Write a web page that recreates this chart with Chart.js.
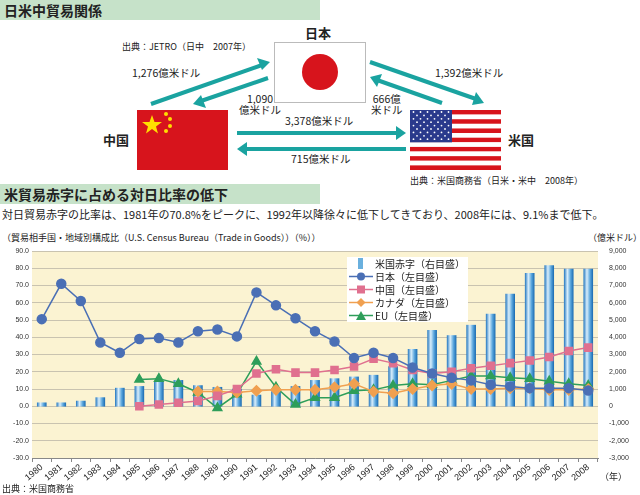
<!DOCTYPE html>
<html><head><meta charset="utf-8">
<script src="https://cdn.jsdelivr.net/npm/chart.js@4"></script>
<style>
body{margin:0;width:640px;height:495px;position:relative;overflow:hidden;background:#fff;font-family:"Noto Sans CJK JP","Noto Sans",sans-serif;color:#222}
.a{position:absolute;white-space:nowrap;line-height:1}
.hd{position:absolute;left:0;width:320px;height:20px;background:#c6e2c9;font-size:14px;font-weight:bold;line-height:20px;padding-left:4px;box-sizing:border-box}
.s{font-size:9px}.m{font-size:10.5px}.b{font-size:13px;font-weight:bold}
#wrap{position:absolute;left:0;top:243px;width:640px;height:252px}
#leg{position:absolute;left:347px;top:257px;width:121px;height:65px;background:#fff;font-size:10px}
#leg div{height:13px;line-height:13px;position:relative;padding-left:28px}
#leg svg{position:absolute;left:2px;top:1px}
</style></head><body>
<div class="hd" style="top:0">日米中貿易関係</div>
<div class="a b" style="left:305px;top:26px">日本</div>
<div class="a s" style="left:122px;top:42px">出典：JETRO（日中　2007年）</div>
<div class="a b" style="left:103px;top:133px">中国</div>
<div class="a b" style="left:508px;top:133px">米国</div>
<svg class="a" style="left:0;top:0" width="640" height="185">
 <rect x="274.5" y="42.5" width="91" height="60" fill="#fff" stroke="#bbb"/>
 <ellipse cx="320" cy="72" rx="18" ry="18" fill="#d7141c"/>
 <rect x="137" y="110" width="91" height="60" fill="#d7141c"/>
 <g fill="#ffde00"><polygon points="152,115 154.5,122 162,122 156,126.5 158,133.5 152,129 146,133.5 148,126.5 142,122 149.5,122"/>
 <circle cx="166" cy="114" r="2"/><circle cx="170" cy="119" r="2"/><circle cx="170" cy="126" r="2"/><circle cx="166" cy="131" r="2"/></g>
 <g id="us"></g>
 <g stroke="#1aa3a0" stroke-width="4" fill="#1aa3a0">
  <line x1="151" y1="104" x2="262" y2="65"/><polygon points="270,62 257,58 262,70" stroke="none"/>
  <line x1="268" y1="78" x2="201" y2="101"/><polygon points="193,104 206,108 201,95" stroke="none"/>
  <line x1="370" y1="62" x2="476" y2="99"/><polygon points="484,103 476,92 472,105" stroke="none"/>
  <line x1="442" y1="103" x2="377" y2="80"/><polygon points="370,77 382,74 377,87" stroke="none"/>
  <line x1="237" y1="133" x2="398" y2="133"/><polygon points="406,133 396,126 396,140" stroke="none"/>
  <line x1="406" y1="149" x2="245" y2="149"/><polygon points="237,149 247,142 247,156" stroke="none"/>
 </g>
</svg>
<div class="a m" style="left:132px;top:68px">1,276億米ドル</div>
<div class="a m" style="left:239px;top:94px;text-align:center">1,090<br>億米ドル</div>
<div class="a m" style="left:435px;top:68px">1,392億米ドル</div>
<div class="a m" style="left:371px;top:94px;text-align:center">666億<br>米ドル</div>
<div class="a m" style="left:285px;top:116px">3,378億米ドル</div>
<div class="a m" style="left:291px;top:154px">715億米ドル</div>
<div class="a s" style="left:410px;top:176px">出典：米国商務省（日米・米中　2008年）</div>
<div class="hd" style="top:184px">米貿易赤字に占める対日比率の低下</div>
<div class="a" style="left:2px;top:209px;font-size:11px">対日貿易赤字の比率は、1981年の70.8%をピークに、1992年以降徐々に低下してきており、2008年には、9.1%まで低下。</div>
<div class="a s" style="left:2px;top:233px">（貿易相手国・地域別構成比（U.S. Census Bureau（Trade in Goods））（%））</div>
<div class="a s" style="left:588px;top:233px">（億米ドル）</div>
<div id="wrap"><canvas id="c"></canvas></div>
<div class="a s" style="left:600px;top:472px">（年）</div>
<div class="a s" style="left:2px;top:484px">出典：米国商務省</div>
<div id="leg">
 <div><svg width="24" height="11"><rect x="9" y="0" width="5" height="11" fill="#6ab0de"/></svg>米国赤字（右目盛）</div>
 <div><svg width="24" height="11"><line x1="0" y1="5.5" x2="24" y2="5.5" stroke="#4a6fb5" stroke-width="1.5"/><circle cx="12" cy="5.5" r="4" fill="#4a6fb5"/></svg>日本（左目盛）</div>
 <div><svg width="24" height="11"><line x1="0" y1="5.5" x2="24" y2="5.5" stroke="#e0708f" stroke-width="1.5"/><rect x="8" y="1.5" width="8" height="8" fill="#e0708f"/></svg>中国（左目盛）</div>
 <div><svg width="24" height="11"><line x1="0" y1="5.5" x2="24" y2="5.5" stroke="#f0a050" stroke-width="1.5"/><polygon points="12,1 16.5,5.5 12,10 7.5,5.5" fill="#f0a050"/></svg>カナダ（左目盛）</div>
 <div><svg width="24" height="11"><line x1="0" y1="5.5" x2="24" y2="5.5" stroke="#2e9e5a" stroke-width="1.5"/><polygon points="12,1 17,10 7,10" fill="#2e9e5a"/></svg>EU（左目盛）</div>
</div>
<script>
// US flag
(function(){
  const g=document.getElementById("us");
  let h="";
  for(let i=0;i<13;i++)h+=`<rect x="410" y="${110+i*60/13}" width="91" height="${60/13}" fill="${i%2?'#fff':'#d7141c'}"/>`;
  h+=`<rect x="410" y="110" width="42" height="32.3" fill="#2a3a8c"/>`;
  for(let r=0;r<9;r++)for(let c=0;c<(r%2?5:6);c++)h+=`<circle cx="${413.5+c*7+(r%2?3.5:0)}" cy="${112+r*3.4}" r="0.9" fill="#fff"/>`;
  g.innerHTML=h;
})();

const years = ["1980","1981","1982","1983","1984","1985","1986","1987","1988","1989","1990","1991","1992","1993","1994","1995","1996","1997","1998","1999","2000","2001","2002","2003","2004","2005","2006","2007","2008"];
const usDeficit = [200,200,300,500,1050,1150,1400,1500,1200,1100,1000,650,850,1150,1500,1600,1700,1800,2300,3300,4400,4100,4700,5350,6500,7700,8150,7950,7950];
const japan = [50.5,71,61,37,31,39,39.5,37,43.5,44.5,40.5,66,58.5,51,43.5,37.5,28,31,28,22.5,19,16.5,15,12.5,11.5,10.5,10.5,10.5,9.1];
const china = [null,null,null,null,null,0,1,2,3,6,10,19,21.5,19.5,19.5,21,23,27.5,25,21,19,20,22,23.5,25,26.5,28.5,32,34];
const canada = [null,null,null,null,null,null,null,null,8.5,8.5,8,9,9.5,9.5,9.5,11,13,8.5,7.5,10,12,13,10,10,10.5,10.5,9.5,9.5,10];
const eu = [null,null,null,null,null,15.5,16,13,8,-1,7,26,11,1,5,5,9,9.5,12,13,12.5,15,17.5,17.5,16.5,16,14.5,13,12];

const bg = {id:"bg",beforeDraw(ch){const a=ch.chartArea,x=ch.ctx;x.save();x.fillStyle="#fbf3d2";x.fillRect(a.left,a.top,a.right-a.left,a.bottom-a.top);x.restore();}};
function barFill(ctx){
  const ch=ctx.chart;if(!ch.chartArea)return "#6ab0de";
  const px=ch.scales.x.getPixelForValue(ctx.dataIndex);
  const g=ch.ctx.createLinearGradient(px-4.5,0,px+4.5,0);
  g.addColorStop(0,"#2f7fc4");g.addColorStop(0.35,"#d9eefb");g.addColorStop(0.7,"#5aa6dd");g.addColorStop(1,"#1f6fb5");
  return g;
}
const line=(data,color,style,r)=>({type:"line",data,yAxisID:"y",borderColor:color,backgroundColor:color,borderWidth:1.5,pointStyle:style,pointRadius:r,pointHoverRadius:r,spanGaps:false,order:1});
new Chart(document.getElementById("c"),{
  data:{labels:years,datasets:[
    {type:"bar",data:usDeficit,yAxisID:"y2",backgroundColor:barFill,barThickness:9,order:2},
    line(japan,"#4a6fb5","circle",4.5),
    line(china,"#e0708f","rect",5),
    line(canada,"#f0a050","rectRot",5),
    line(eu,"#2e9e5a","triangle",5)
  ]},
  options:{responsive:true,maintainAspectRatio:false,animation:false,
    layout:{padding:{top:8,left:0,right:0,bottom:0}},
    plugins:{legend:{display:false},tooltip:{enabled:false}},
    scales:{
      x:{grid:{display:true,drawOnChartArea:false,tickLength:4,color:"#888",offset:true},border:{color:"#888"},
         ticks:{color:"#222",font:{size:9},maxRotation:40,minRotation:40,autoSkip:false,padding:0},
         afterFit(s){s.height=37;}},
      y:{position:"left",min:-30,max:90,ticks:{stepSize:10,color:"#333",font:{size:7},callback:v=>v.toFixed(1)},
         grid:{color:"#c9c3b0",tickLength:0},border:{display:false},afterFit(s){s.width=32;}},
      y2:{position:"right",min:-3000,max:9000,ticks:{stepSize:1000,color:"#333",font:{size:7},callback:v=>v.toLocaleString("en-US")},
         grid:{display:false},border:{display:false},afterFit(s){s.width=42;}}
    }},
  plugins:[bg]
});
</script>
</body></html>
